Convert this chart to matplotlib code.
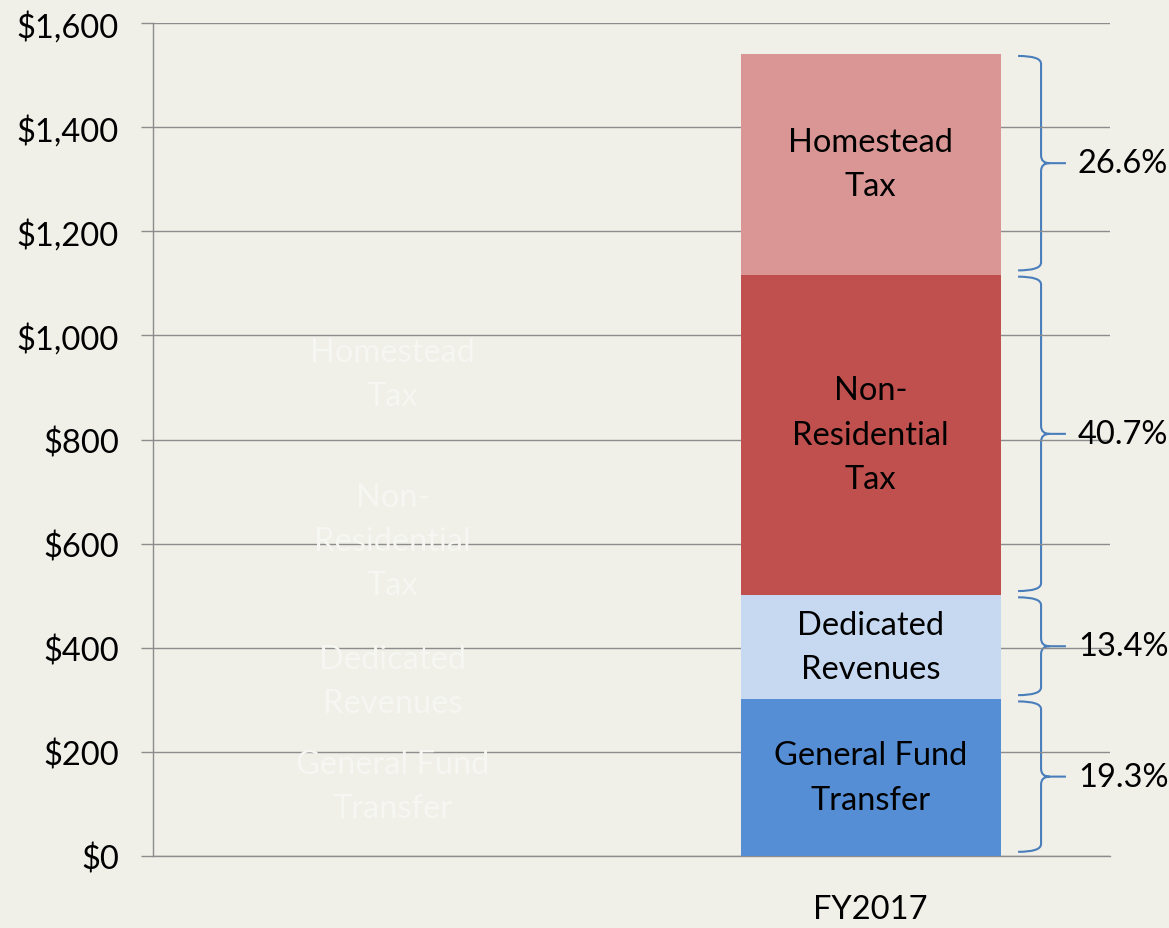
import matplotlib.pyplot as plt
from matplotlib.path import Path
from matplotlib.patches import PathPatch

plt.rcParams['font.family'] = ['Lato', 'DejaVu Sans']

categories = ['', 'FY2017']
segment_names = ['General Fund\nTransfer', 'Dedicated\nRevenues',
                 'Non-\nResidential\nTax', 'Homestead\nTax']
# left column is a hidden bar, only its faint labels show
ghost_values = [269, 134, 404, 238]
fy2017_values = [301, 200, 616, 424]
shares = ['19.3%', '13.4%', '40.7%', '26.6%']
colors = ['#558ED5', '#C6D9F1', '#C0504D', '#D99694']

bg = '#F0F0E9'
ghost_text = '#F6F6F2'
fs = 23.5


def brace(ax, y_lo, y_hi, x0=1.308, x1=1.356, x2=1.408, r=15):
    y_mid = (y_lo + y_hi) / 2
    d = 0.018
    verts = [(x0, y_hi), (x1, y_hi), (x1, y_hi - r),
             (x1, y_mid + r), (x1, y_mid), (x1 + d, y_mid),
             (x2, y_mid),
             (x1 + d, y_mid), (x1, y_mid), (x1, y_mid - r),
             (x1, y_lo + r), (x1, y_lo), (x0, y_lo)]
    codes = [Path.MOVETO, Path.CURVE3, Path.CURVE3,
             Path.LINETO, Path.CURVE3, Path.CURVE3,
             Path.LINETO,
             Path.MOVETO, Path.CURVE3, Path.CURVE3,
             Path.LINETO, Path.CURVE3, Path.CURVE3]
    patch = PathPatch(Path(verts, codes), facecolor='none', edgecolor='#4A7EBB',
                      linewidth=1.5, clip_on=False)
    ax.add_patch(patch)
    return y_mid


fig = plt.figure(figsize=(11.69, 9.29), dpi=100, facecolor=bg)
ax = fig.add_axes([0.1309, 0.0775, 0.8186, 0.8965])
ax.set_facecolor(bg)

width = 0.543
bottom = 0
for name, val, col in zip(segment_names, fy2017_values, colors):
    ax.bar(1, val, width, bottom=bottom, color=col, zorder=3)
    ax.text(1, bottom + val / 2, name, ha='center', va='center',
            fontsize=fs, color='black', zorder=4, linespacing=1.6)
    bottom += val

bottom = 0
for name, val in zip(segment_names, ghost_values):
    ax.bar(0, val, width, bottom=bottom, color='none', zorder=3)
    ax.text(0, bottom + val / 2, name, ha='center', va='center',
            fontsize=fs, color=ghost_text, zorder=4, linespacing=1.6)
    bottom += val

# braces with share labels
bottom = 0
for val, share in zip(fy2017_values, shares):
    mid = brace(ax, bottom + 8, bottom + val - 4)
    ax.text(1.433, mid, share, ha='left', va='center', fontsize=fs,
            color='black', clip_on=False)
    bottom += val

ax.set_xlim(-0.5, 1.5)
ax.set_ylim(0, 1600)
ax.set_yticks(range(0, 1601, 200))
ax.set_yticklabels(['${:,}'.format(v) for v in range(0, 1601, 200)])
ax.set_xticks([0, 1])
ax.set_xticklabels(categories)

ax.grid(axis='y', color='#8C8C8C', linewidth=1.0, zorder=0)
for side in ['top', 'right']:
    ax.spines[side].set_visible(False)
for side in ['left', 'bottom']:
    ax.spines[side].set_color('#8C8C8C')
    ax.spines[side].set_linewidth(1.0)

ax.tick_params(axis='y', length=8.6, width=1.0, color='#8C8C8C',
               labelsize=fs, pad=16)
ax.tick_params(axis='x', length=0, labelsize=fs, pad=27)

fig.savefig('out.png', dpi=100, facecolor=bg)
